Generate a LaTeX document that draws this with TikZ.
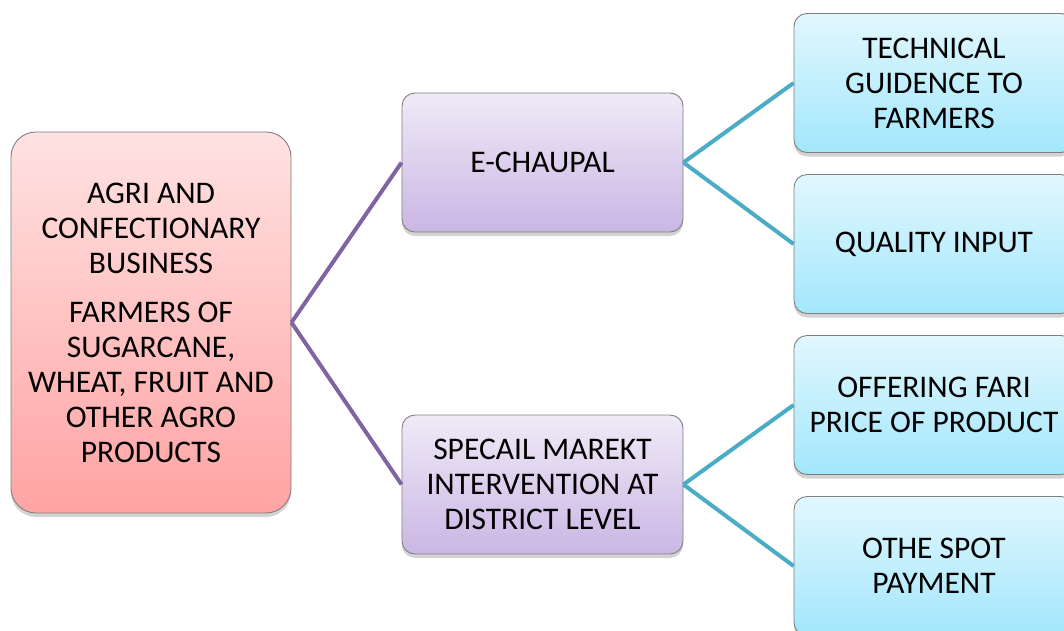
\documentclass[tikz,border=0pt]{standalone}
\usepackage{fontspec}
\setmainfont{Carlito}
\usetikzlibrary{shadows}
\definecolor{rootTop}{HTML}{FFE2E2}
\definecolor{rootBot}{HTML}{FFA3A3}
\definecolor{midTop}{HTML}{EFEAF7}
\definecolor{midBot}{HTML}{CAB6E4}
\definecolor{leafTop}{HTML}{E2F7FE}
\definecolor{leafBot}{HTML}{A2E7FC}
\definecolor{purpLine}{HTML}{8064A2}
\definecolor{cyanLine}{HTML}{4BACC6}
\definecolor{boxEdge}{HTML}{7F7F7F}
\tikzset{
  box/.style={draw=boxEdge, line width=0.9pt, align=center,
    font=\fontsize{31.5}{35}\selectfont, inner sep=0pt,
    drop shadow={opacity=0.35, shadow xshift=0pt, shadow yshift=-4pt}},
  rootbox/.style={box, rounded corners=25pt, top color=rootTop, bottom color=rootBot,
    minimum width=280pt, minimum height=381pt},
  midbox/.style={box, rounded corners=13pt, top color=midTop, bottom color=midBot,
    minimum width=281pt, minimum height=139pt},
  leafbox/.style={box, rounded corners=13pt, top color=leafTop, bottom color=leafBot,
    minimum width=280pt, minimum height=139pt},
  purpconn/.style={draw=purpLine, line width=4pt},
  cyanconn/.style={draw=cyanLine, line width=4pt}
}
\begin{document}
\begin{tikzpicture}[x=1pt,y=-1pt]
\useasboundingbox (0,0) rectangle (1064,630);
\clip (0,0) rectangle (1064,630);
\node[rootbox] (root) at (151,322.5) {AGRI AND\\CONFECTIONARY\\BUSINESS\\[14pt]FARMERS OF\\SUGARCANE,\\WHEAT, FRUIT AND\\OTHER AGRO\\PRODUCTS};
\node[midbox] (m1) at (542.5,162.5) {E-CHAUPAL};
\node[midbox] (m2) at (542.5,484.5) {SPECAIL MAREKT\\INTERVENTION AT\\DISTRICT LEVEL};
\node[leafbox] (l1) at (934,83) {TECHNICAL\\GUIDENCE TO\\FARMERS};
\node[leafbox] (l2) at (934,244) {QUALITY INPUT};
\node[leafbox] (l3) at (934,405) {OFFERING FARI\\PRICE OF PRODUCT};
\node[leafbox] (l4) at (934,566) {OTHE SPOT\\PAYMENT};
\draw[purpconn] (root.east) -- (m1.west);
\draw[purpconn] (root.east) -- (m2.west);
\draw[cyanconn] (m1.east) -- (l1.west);
\draw[cyanconn] (m1.east) -- (l2.west);
\draw[cyanconn] (m2.east) -- (l3.west);
\draw[cyanconn] (m2.east) -- (l4.west);
\end{tikzpicture}
\end{document}
